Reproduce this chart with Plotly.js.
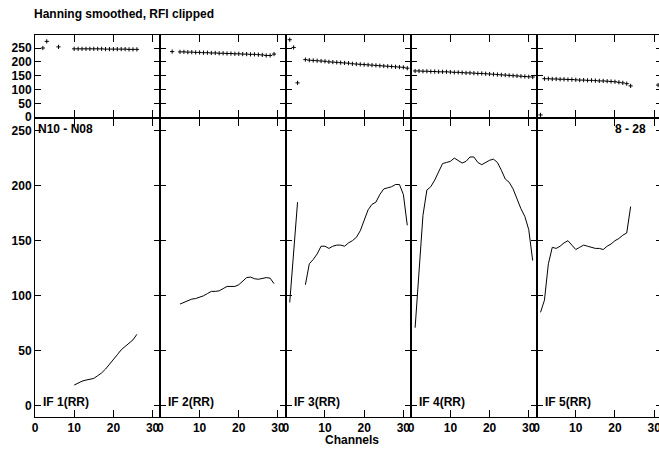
<!DOCTYPE html>
<html>
<head>
<meta charset="utf-8">
<script src="https://cdn.plot.ly/plotly-3.0.1.min.js"></script>
<style>
html,body{margin:0;padding:0;overflow:hidden;background:#fff;}
#chart{width:662px;height:450px;}
</style>
</head>
<body>
<div id="chart"></div>
<script>
// ---- data ----
const panelLabels = ["IF 1(RR)", "IF 2(RR)", "IF 3(RR)", "IF 4(RR)", "IF 5(RR)"];
const xTicks = [0, 10, 20, 30];
const yTicks = [0, 50, 100, 150, 200, 250];
const titleText = "Hanning smoothed, RFI clipped";
const baselineText = "N10 - N08";
const timeText = "8 - 28";
const xTitle = "Channels";

// bottom (line) panels
const line1X = [10,11,12,13,14,15,16,17,18,19,20,21,22,23,24,25,26];
const line1Y = [19,21,22.5,23.5,24,25,27.5,30,33.5,37.5,42,46.5,51,54,57,60,65];
const line2X = [5,6,7,8,9,10,11,12,13,14,15,16,17,18,19,20,21,22,23,24,25,26,27,28,29];
const line2Y = [92.5,94,95.5,97,97.5,98.5,100,102,104,104,104.5,106.5,108.5,108.5,108.5,110,113,116.5,117,115.5,115,116,116.5,116,111];
const line3X = [1,2,3,4,5,6,7,8,9,10,11,12,13,14,15,16,17,18,19,20,21,22,23,24,25,26,27,28,29,30,31];
const line3Y = [94,140,185,null,110,129,133,138,145,145,143,145,146,146,145,148,150,153,159,168,178,183,185,192,197,198,199,201,201,192,164];
const line4X = [1,2,3,4,5,6,7,8,9,10,11,12,13,14,15,16,17,18,19,20,21,22,23,24,25,26,27,28,29,30,31];
const line4Y = [71,122,173,196,199,205,213,220,221,222,225,223,220.5,222,226,226,221,219,221,223,224,221,214,206,203,197,188,179,172,160,132];
const line5X = [1,2,3,4,5,6,7,8,9,10,11,12,13,14,15,16,17,18,19,20,21,22,23,24];
const line5Y = [85,96,129,144,143,145,148,150,146,142,144,146,145,144,143,143,142,145,147,150,152,155,157,181];

// top (point) panels
const dots1X = [2,3,6,10,11,12,13,14,15,16,17,18,19,20,21,22,23,24,25,26];
const dots1Y = [250,274,254,247,247,247,247,247,247,247,247,246,246,246,246,246,246,245,245,245];
const dots2X = [3,5,6,7,8,9,10,11,12,13,14,15,16,17,18,19,20,21,22,23,24,25,26,27,28,29];
const dots2Y = [237,236,236,235,235,234,234,233,233,232,232,231,231,230,230,229,229,228,228,227,227,226,225,223,223,228];
const dots3X = [1,2,3,5,6,7,8,9,10,11,12,13,14,15,16,17,18,19,20,21,22,23,24,25,26,27,28,29,30,31];
const dots3Y = [280,252,124,208,206,205,204,203,202,200,199,198,197,196,195,193,192,191,190,189,188,187,186,185,184,183,182,181,180,177];
const dots4X = [1,2,3,4,5,6,7,8,9,10,11,12,13,14,15,16,17,18,19,20,21,22,23,24,25,26,27,28,29,30,31];
const dots4Y = [167,167,166,166,165,165,164,164,164,163,162,162,161,160,160,159,158,158,157,156,155,154,153,152,151,150,149,148,147,146,145];
const dots5X = [1,2,3,4,5,6,7,8,9,10,11,12,13,14,15,16,17,18,19,20,21,22,23,24,31];
const dots5Y = [8,139,139,138,138,137,137,136,136,135,134,134,133,133,132,131,131,130,129,128,126,124,121,113,116];

const linesX = [line1X, line2X, line3X, line4X, line5X];
const linesY = [line1Y, line2Y, line3Y, line4Y, line5Y];
const dotsX = [dots1X, dots2X, dots3X, dots4X, dots5X];
const dotsY = [dots1Y, dots2Y, dots3Y, dots4Y, dots5Y];

// ---- build ----
const FONT = "Liberation Sans, Arial, Helvetica, sans-serif";
const bold = (s) => ({family: FONT, size: s, color: "#000", weight: 700});
const traces = [];
const layout = {
  width: 662, height: 450,
  margin: {l: 35, r: 0, t: 35, b: 33},
  paper_bgcolor: "#fff", plot_bgcolor: "#fff",
  showlegend: false,
  font: bold(12),
  annotations: []
};
const botDom = [0, 0.7788];
const topDom = [0.7846, 1];
const axCommon = {
  showgrid: false, zeroline: false, showline: true, linecolor: "#000", linewidth: 1,
  mirror: "allticks", ticks: "inside", tickcolor: "#000", tickwidth: 1, fixedrange: true,
  tickfont: bold(12)
};
for (let i = 0; i < 5; i++) {
  const b = i + 1, t = i + 6;
  const dom = [i / 5, (i + 1) / 5];
  traces.push({x: linesX[i], y: linesY[i], xaxis: "x" + b, yaxis: "y" + b, type: "scatter",
    mode: "lines", connectgaps: false, line: {color: "#000", width: 1}, hoverinfo: "skip"});
  traces.push({x: dotsX[i], y: dotsY[i], xaxis: "x" + t, yaxis: "y" + t, type: "scatter",
    mode: "markers", marker: {symbol: "cross-thin", size: 3, line: {color: "#000", width: 1}, color: "#000"}, hoverinfo: "skip"});
  layout["xaxis" + b] = Object.assign({}, axCommon, {domain: dom, range: [0, 32], anchor: "y" + b,
    tickvals: xTicks, ticktext: xTicks.map(String), ticklen: 7});
  layout["yaxis" + b] = Object.assign({}, axCommon, {domain: botDom, range: [-10, 260], anchor: "x" + b,
    tickvals: yTicks, ticktext: yTicks.map(String), ticklen: 6, showticklabels: i === 0});
  layout["xaxis" + t] = Object.assign({}, axCommon, {domain: dom, range: [0, 32], anchor: "y" + t,
    tickvals: xTicks, ticklen: 7, showticklabels: false});
  layout["yaxis" + t] = Object.assign({}, axCommon, {domain: topDom, range: [-0.5, 297], anchor: "x" + t,
    tickvals: yTicks, ticktext: yTicks.map(String), ticklen: 6, showticklabels: i === 0});
  layout.annotations.push({text: panelLabels[i], xref: "x" + b + " domain", yref: "y" + b + " domain",
    x: 0, y: 0.0515, xanchor: "left", yanchor: "middle", xshift: 6, showarrow: false, font: bold(12)});
}
layout.annotations.push({text: baselineText, xref: "x1 domain", yref: "y1 domain", x: 0, y: 0.968,
  xanchor: "left", yanchor: "middle", xshift: 1, showarrow: false, font: bold(12)});
layout.annotations.push({text: timeText, xref: "x5 domain", yref: "y5 domain", x: 1, y: 0.968,
  xanchor: "right", yanchor: "middle", xshift: -14, showarrow: false, font: bold(12)});
layout.annotations.push({text: titleText, xref: "paper", yref: "paper", x: 0, y: 1, xanchor: "left",
  yanchor: "middle", yshift: 21, xshift: -3, showarrow: false, font: bold(12)});
layout.annotations.push({text: xTitle, xref: "paper", yref: "paper", x: 0.5, y: 0, xanchor: "center",
  yanchor: "middle", yshift: -23, xshift: 3, showarrow: false, font: bold(12)});

Plotly.newPlot("chart", traces, layout, {staticPlot: true, displayModeBar: false});
</script>
</body>
</html>
